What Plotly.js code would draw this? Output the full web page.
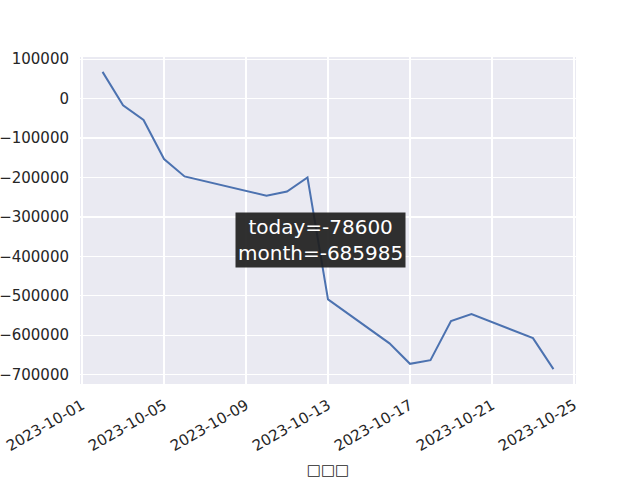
<!DOCTYPE html>
<html>
<head>
<meta charset="utf-8">
<script src="https://cdn.plot.ly/plotly-3.0.1.min.js"></script>
<style>body{margin:0;padding:0;} #chart{width:640px;height:480px;}</style>
</head>
<body>
<div id="chart"></div>
<script>
var dates = ["2023-10-02","2023-10-03","2023-10-04","2023-10-05","2023-10-06","2023-10-10","2023-10-11","2023-10-12","2023-10-13","2023-10-16","2023-10-17","2023-10-18","2023-10-19","2023-10-20","2023-10-23","2023-10-24"];
var values = [67800,-17000,-54100,-153200,-197400,-246400,-235500,-200000,-509000,-620700,-672500,-663100,-564000,-546200,-607385,-685985];
var xTickVals = ["2023-10-01","2023-10-05","2023-10-09","2023-10-13","2023-10-17","2023-10-21","2023-10-25"];
var yTickVals = [100000,0,-100000,-200000,-300000,-400000,-500000,-600000,-700000];
var xTitle = "□□□";
var noteText = "today=-78600<br>month=-685985";

var yTickText = yTickVals.map(function(v){ return String(v).replace('-', '\u2212'); });
var ymax = Math.max.apply(null, values), ymin = Math.min.apply(null, values);
var pad = (ymax - ymin) * 0.05;

var trace = {x: dates, y: values, type: 'scatter', mode: 'lines',
  line: {color: '#4C72B0', width: 2}, hoverinfo: 'skip'};

var font = {family: 'DejaVu Sans, sans-serif', size: 15, color: '#262626'};
var layout = {
  width: 640, height: 480,
  margin: {l: 80, r: 64, t: 57, b: 96},
  paper_bgcolor: '#ffffff', plot_bgcolor: '#EAEAF2',
  showlegend: false,
  font: font,
  xaxis: {type: 'date', range: ['2023-09-30 21:36', '2023-10-25 02:24'],
    tickvals: xTickVals, ticktext: xTickVals, tickangle: -30,
    showgrid: true, gridcolor: '#ffffff', gridwidth: 1.3, zeroline: false,
    showline: false, ticks: '', ticklabelstandoff: 9, tickfont: font,
    title: {text: xTitle, font: font, standoff: 10}},
  yaxis: {range: [ymin - pad, ymax + pad], tickvals: yTickVals, ticktext: yTickText,
    showgrid: true, gridcolor: '#ffffff', gridwidth: 1.3, zeroline: false,
    showline: false, ticks: '', ticklabelstandoff: 10, tickfont: font},
  annotations: [{xref: 'paper', yref: 'paper', x: 0.485, y: 0.44,
    xanchor: 'center', yanchor: 'middle', showarrow: false,
    text: noteText, align: 'center',
    font: {family: 'DejaVu Sans, sans-serif', size: 20, color: '#ffffff'},
    bgcolor: 'rgba(30,30,30,0.92)', borderpad: 2}]
};
Plotly.newPlot('chart', [trace], layout, {displayModeBar: false, staticPlot: true});
</script>
</body>
</html>
